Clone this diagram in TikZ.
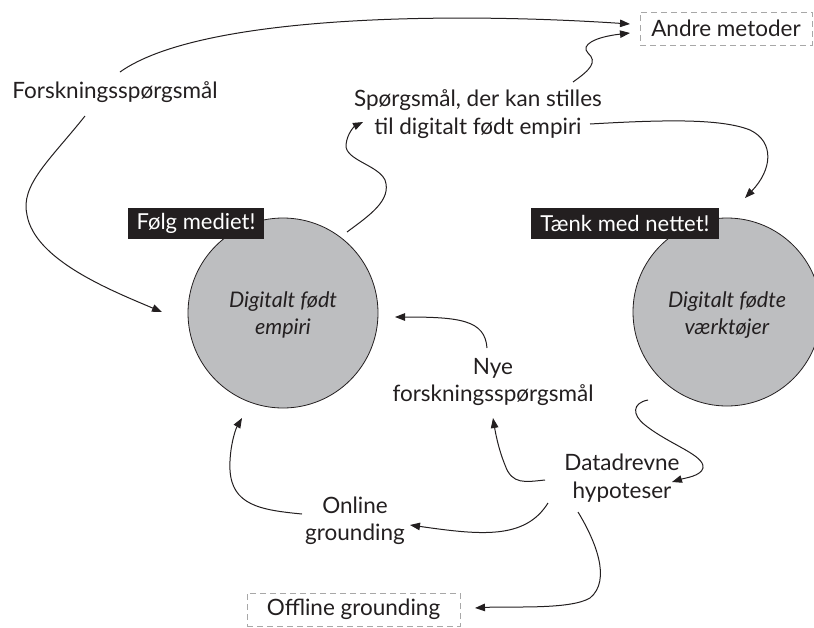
\documentclass[tikz,border=0pt]{standalone}
\usepackage{fontspec}
\setmainfont{Lato}
\usetikzlibrary{arrows.meta}
\definecolor{ink}{HTML}{231F20}
\definecolor{circfill}{HTML}{BDBEC0}
\definecolor{dashgray}{HTML}{A8A8A8}
\tikzset{
  lbl/.style={text=ink, align=center, inner sep=0pt, font=\fontsize{22.5}{27.5}\selectfont},
  itl/.style={text=ink, align=center, inner sep=0pt, font=\fontsize{21.5}{27.5}\selectfont\itshape},
  blob/.style={circle, draw=ink, line width=0.8pt, fill=circfill, inner sep=0pt},
  tag/.style={fill=ink, text=white, inner sep=0pt, font=\fontsize{22}{27}\selectfont},
  dbox/.style={draw=dashgray, dash pattern=on 6pt off 4pt, line width=0.8pt, text=ink, inner sep=0pt, font=\fontsize{22.5}{27.5}\selectfont},
  arr/.style={draw=ink, line width=1pt, -{Triangle[length=10pt,width=7.5pt]}},
}
\begin{document}
\begin{tikzpicture}[x=1pt,y=-1pt]
\useasboundingbox (0,0) rectangle (814,627);
% circles
\node[blob, minimum size=190pt] (le) at (283,313) {};
\node[blob, minimum size=188pt] (re) at (727,312) {};
\node[itl] (let) at (283,315) {Digitalt født\\empiri};
\node[itl] (ret) at (727,315) {Digitalt fødte\\værktøjer};
% tags
\node[tag, minimum width=136pt, minimum height=31pt] (fm) at (196,223.5) {Følg mediet!};
\node[tag, minimum width=188pt, minimum height=31pt] (tm) at (625,223.5) {Tænk med nettet!};
% dashed boxes
\node[dbox, minimum width=172pt, minimum height=33pt] (am) at (726,28.5) {Andre metoder};
\node[dbox, minimum width=213pt, minimum height=33pt] (off) at (353.5,609.5) {Offline grounding};
% labels
\node[lbl] (fq) at (115,92) {Forskningsspørgsmål};
\node[lbl] (sp) at (478,114) {Spørgsmål, der kan stilles\\til digitalt født empiri};
\node[lbl] (nye) at (493,382) {Nye\\forskningsspørgsmål};
\node[lbl] (dh) at (622,478) {Datadrevne\\hypoteser};
\node[lbl] (og) at (355,521) {Online\\grounding};
% connector end points
\coordinate (fq-a) at (120,72);
\coordinate (fq-b) at (85,116);
\coordinate (am-a) at (630,24);
\coordinate (am-b) at (630,33);
\coordinate (le-a) at (162,312);
\coordinate (le-b) at (347,232);
\coordinate (le-c) at (395,317);
\coordinate (le-d) at (242,418);
\coordinate (sp-a) at (363,122);
\coordinate (sp-b) at (573,82);
\coordinate (sp-c) at (590,124);
\coordinate (re-a) at (745,198);
\coordinate (re-b) at (648,400);
\coordinate (dh-a) at (672,482);
\coordinate (dh-b) at (545,480);
\coordinate (dh-c) at (548,503);
\coordinate (dh-d) at (578,512);
\coordinate (nye-a) at (493,418);
\coordinate (nye-b) at (487,348);
\coordinate (og-a) at (410,525);
\coordinate (og-b) at (302,514);
\coordinate (off-a) at (475,608);
% connectors
\draw[arr] (fq-a) .. controls (200,15) and (450,12) .. (am-a);
\draw[arr] (fq-b) .. controls (50,160) and (20,185) .. (27,215) .. controls (35,260) and (110,290) .. (le-a);
\draw[arr] (le-b) .. controls (370,215) and (392,200) .. (385,180) .. controls (378,165) and (345,160) .. (346,145) .. controls (347,133) and (355,126) .. (sp-a);
\draw[arr] (sp-b) .. controls (590,70) and (598,62) .. (588,53) .. controls (580,45) and (595,37) .. (am-b);
\draw[arr] (sp-c) .. controls (660,120) and (720,118) .. (750,130) .. controls (775,142) and (772,170) .. (re-a);
\draw[arr] (re-b) .. controls (632,403) and (632,415) .. (645,425) .. controls (670,445) and (705,455) .. (703,468) .. controls (701,476) and (685,478) .. (dh-a);
\draw[arr] (dh-b) .. controls (525,482) and (512,485) .. (505,465) .. controls (498,448) and (495,430) .. (nye-a);
\draw[arr] (dh-c) .. controls (525,540) and (480,535) .. (og-a);
\draw[arr] (dh-d) .. controls (595,540) and (612,580) .. (590,598) .. controls (570,610) and (510,606) .. (off-a);
\draw[arr] (og-b) .. controls (260,510) and (232,505) .. (230,470) .. controls (229,450) and (235,430) .. (le-d);
\draw[arr] (nye-b) .. controls (485,320) and (460,317) .. (le-c);
\end{tikzpicture}
\end{document}
